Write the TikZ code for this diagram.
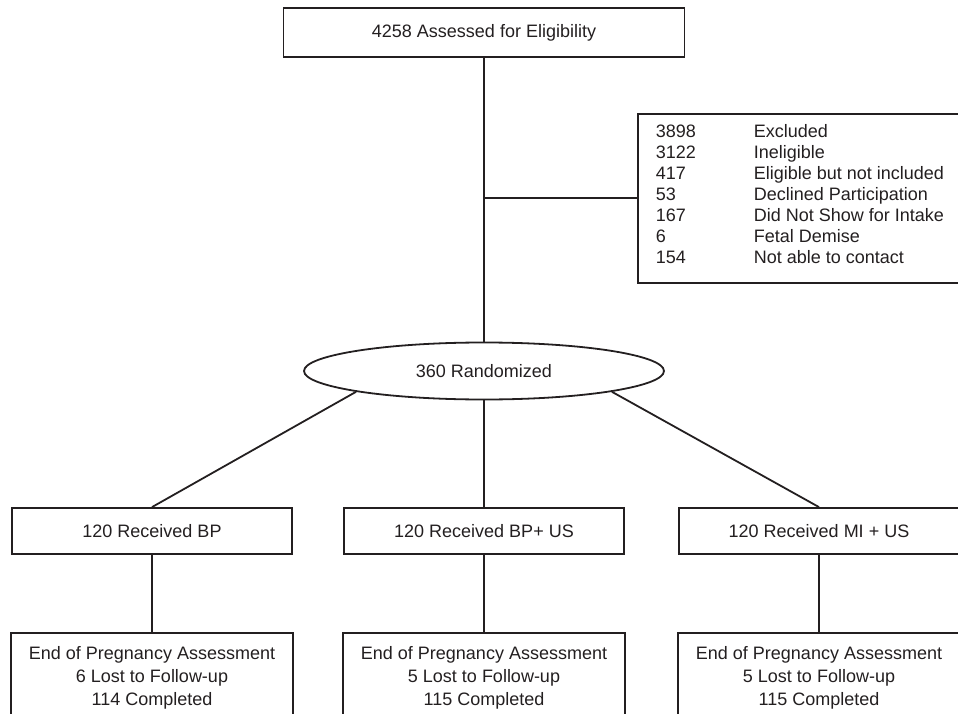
\documentclass[tikz,border=0pt]{standalone}
\usepackage{fontspec}
\setmainfont{Liberation Sans}
\usetikzlibrary{shapes.geometric}
\definecolor{ink}{HTML}{231F20}
\tikzset{
	box/.style={draw, rectangle, inner sep=0pt, minimum width=280pt, minimum height=46pt},
	endbox/.style={draw, rectangle, inner sep=0pt, anchor=base, minimum width=282pt, minimum height=90pt, font=\fontsize{18}{23}\selectfont},
}

\begin{document}
\begin{tikzpicture}[x=1pt, y=1pt, color=ink, line width=1.8pt, font=\fontsize{18}{21}\selectfont]
				\useasboundingbox (0,0) rectangle (958,-714);
				% screening
				\node[box, minimum width=401pt, minimum height=49pt] (elig) at (484,-32.5) {4258 Assessed for Eligibility};
				\node[box, anchor=north west, minimum width=336pt, minimum height=169pt] (excl) at (637,-113) {};
				\node[anchor=base west, inner sep=0pt] (exclrows) at (655,-137.5) {\begin{tabular}[t]{@{}p{98pt}@{}l@{}}
					3898 & Excluded\\
					3122 & Ineligible\\
					417 & Eligible but not included\\
					53 & Declined Participation\\
					167 & Did Not Show for Intake\\
					6 & Fetal Demise\\
					154 & Not able to contact
				\end{tabular}};
				\node[ellipse, draw, inner sep=0pt, minimum width=360pt, minimum height=57pt] (rand) at (484,-371) {360 Randomized};
				% arms
				\node[box] (bp) at (152,-531) {120 Received BP};
				\node[box] (bpus) at (484,-531) {120 Received BP+ US};
				\node[box] (mius) at (819,-531) {120 Received MI + US};
				\node[endbox] (endbp) at (152,-659.5) {\begin{tabular}[t]{@{}c@{}}
					End of Pregnancy Assessment\\
					6 Lost to Follow-up\\
					114 Completed
				\end{tabular}};
				\node[endbox] (endbpus) at (484,-659.5) {\begin{tabular}[t]{@{}c@{}}
					End of Pregnancy Assessment\\
					5 Lost to Follow-up\\
					115 Completed
				\end{tabular}};
				\node[endbox] (endmius) at (819,-659.5) {\begin{tabular}[t]{@{}c@{}}
					End of Pregnancy Assessment\\
					5 Lost to Follow-up\\
					115 Completed
				\end{tabular}};
				% connectors
				\draw (elig.south) -- (rand.north);
				\draw (excl.west) -- (excl.west -| elig.south);
				\draw (rand.south west) -- (bp.north);
				\draw (rand.south) -- (bpus.north);
				\draw (rand.south east) -- (mius.north);
				\draw (bp.south) -- (endbp.north);
				\draw (bpus.south) -- (endbpus.north);
				\draw (mius.south) -- (endmius.north);
			\end{tikzpicture}
\end{document}
